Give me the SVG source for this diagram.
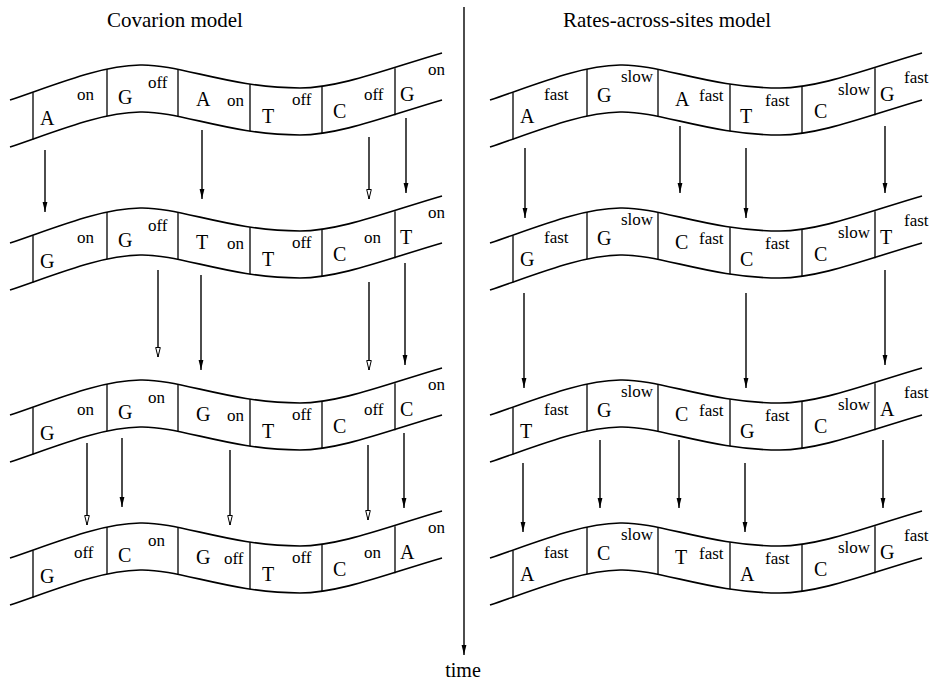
<svg xmlns="http://www.w3.org/2000/svg" xmlns:xlink="http://www.w3.org/1999/xlink" width="937" height="684" viewBox="0 0 937 684">
<style>
.w{fill:none;stroke:#000;stroke-width:1.6}
.d{stroke:#000;stroke-width:1.3}
.L{font-family:"Liberation Serif","Times New Roman",serif;font-size:20px;fill:#000}
.lb{font-family:"Liberation Serif","Times New Roman",serif;font-size:17px;fill:#000}
.t{font-family:"Liberation Serif","Times New Roman",serif;font-size:21px;fill:#000}
.a{stroke:#000;stroke-width:1.4;fill:none}
.f{marker-end:url(#fill)}
.h{marker-end:url(#hollow)}
</style>
<defs>
<marker id="fill" markerUnits="userSpaceOnUse" markerWidth="12" markerHeight="8" refX="10" refY="4" orient="auto" viewBox="0 0 12 8">
<path d="M0,1.6 L10,4 L0,6.4 Z" fill="#000"/>
</marker>
<marker id="hollow" markerUnits="userSpaceOnUse" markerWidth="12" markerHeight="8" refX="10" refY="4" orient="auto" viewBox="0 0 12 8">
<path d="M0.5,1.7 L10,4 L0.5,6.3 Z" fill="#fff" stroke="#000" stroke-width="1"/>
</marker>
<path id="wave" d="M10,100 C60,83 100,66 140,65 C180,64 230,88 300,88 C340,88 390,68 442,53"/>
<g id="band">
<use xlink:href="#wave" class="w"/>
<use xlink:href="#wave" class="w" transform="translate(0,47)"/>
<line class="d" x1="33" y1="92.4" x2="33" y2="139.4"/>
<line class="d" x1="107" y1="69" x2="107" y2="116"/>
<line class="d" x1="178" y1="69.2" x2="178" y2="116.2"/>
<line class="d" x1="250" y1="84.3" x2="250" y2="131.3"/>
<line class="d" x1="322" y1="86.2" x2="322" y2="133.2"/>
<line class="d" x1="395" y1="68.2" x2="395" y2="115.2"/>
</g>
</defs>
<rect width="937" height="684" fill="#fff"/>
<text class="t" x="107" y="27">Covarion model</text>
<text class="t" x="563" y="27">Rates-across-sites model</text>

<g id="cov1" transform="translate(0,0)">
<use xlink:href="#band"/>
<text class="L" x="40" y="125">A</text><text class="lb" x="77" y="100">on</text>
<text class="L" x="118" y="104">G</text><text class="lb" x="148" y="88">off</text>
<text class="L" x="196" y="106">A</text><text class="lb" x="227" y="106">on</text>
<text class="L" x="262" y="123">T</text><text class="lb" x="292" y="105">off</text>
<text class="L" x="333" y="118">C</text><text class="lb" x="364" y="100">off</text>
<text class="L" x="400" y="101">G</text><text class="lb" x="428" y="75">on</text>
</g>
<g id="cov2" transform="translate(0,143)">
<use xlink:href="#band"/>
<text class="L" x="40" y="125">G</text><text class="lb" x="77" y="100">on</text>
<text class="L" x="118" y="104">G</text><text class="lb" x="148" y="88">off</text>
<text class="L" x="196" y="106">T</text><text class="lb" x="227" y="106">on</text>
<text class="L" x="262" y="123">T</text><text class="lb" x="292" y="105">off</text>
<text class="L" x="333" y="118">C</text><text class="lb" x="364" y="100">on</text>
<text class="L" x="400" y="101">T</text><text class="lb" x="428" y="75">on</text>
</g>
<g id="cov3" transform="translate(0,315)">
<use xlink:href="#band"/>
<text class="L" x="40" y="125">G</text><text class="lb" x="77" y="100">on</text>
<text class="L" x="118" y="104">G</text><text class="lb" x="148" y="88">on</text>
<text class="L" x="196" y="106">G</text><text class="lb" x="227" y="106">on</text>
<text class="L" x="262" y="123">T</text><text class="lb" x="292" y="105">off</text>
<text class="L" x="333" y="118">C</text><text class="lb" x="364" y="100">off</text>
<text class="L" x="400" y="101">C</text><text class="lb" x="428" y="75">on</text>
</g>
<g id="cov4" transform="translate(0,458)">
<use xlink:href="#band"/>
<text class="L" x="40" y="125">G</text><text class="lb" x="74" y="100">off</text>
<text class="L" x="118" y="104">C</text><text class="lb" x="148" y="88">on</text>
<text class="L" x="196" y="106">G</text><text class="lb" x="224" y="106">off</text>
<text class="L" x="262" y="123">T</text><text class="lb" x="292" y="105">off</text>
<text class="L" x="333" y="118">C</text><text class="lb" x="364" y="100">on</text>
<text class="L" x="400" y="101">A</text><text class="lb" x="428" y="75">on</text>
</g>

<g id="ras1" transform="translate(480,0)">
<use xlink:href="#band"/>
<text class="L" x="40" y="123">A</text><text class="lb" x="64" y="100">fast</text>
<text class="L" x="117" y="102">G</text><text class="lb" x="141" y="82">slow</text>
<text class="L" x="195" y="106">A</text><text class="lb" x="219" y="101">fast</text>
<text class="L" x="260" y="123">T</text><text class="lb" x="285" y="106">fast</text>
<text class="L" x="334" y="118">C</text><text class="lb" x="358" y="95">slow</text>
<text class="L" x="400" y="101">G</text><text class="lb" x="424" y="83">fast</text>
</g>
<g id="ras2" transform="translate(480,143)">
<use xlink:href="#band"/>
<text class="L" x="40" y="123">G</text><text class="lb" x="64" y="100">fast</text>
<text class="L" x="117" y="102">G</text><text class="lb" x="141" y="82">slow</text>
<text class="L" x="195" y="106">C</text><text class="lb" x="219" y="101">fast</text>
<text class="L" x="260" y="123">C</text><text class="lb" x="285" y="106">fast</text>
<text class="L" x="334" y="118">C</text><text class="lb" x="358" y="95">slow</text>
<text class="L" x="400" y="101">T</text><text class="lb" x="424" y="83">fast</text>
</g>
<g id="ras3" transform="translate(480,315)">
<use xlink:href="#band"/>
<text class="L" x="40" y="123">T</text><text class="lb" x="64" y="100">fast</text>
<text class="L" x="117" y="102">G</text><text class="lb" x="141" y="82">slow</text>
<text class="L" x="195" y="106">C</text><text class="lb" x="219" y="101">fast</text>
<text class="L" x="260" y="123">G</text><text class="lb" x="285" y="106">fast</text>
<text class="L" x="334" y="118">C</text><text class="lb" x="358" y="95">slow</text>
<text class="L" x="400" y="101">A</text><text class="lb" x="424" y="83">fast</text>
</g>
<g id="ras4" transform="translate(480,458)">
<use xlink:href="#band"/>
<text class="L" x="40" y="123">A</text><text class="lb" x="64" y="100">fast</text>
<text class="L" x="117" y="102">C</text><text class="lb" x="141" y="82">slow</text>
<text class="L" x="195" y="106">T</text><text class="lb" x="219" y="101">fast</text>
<text class="L" x="260" y="123">A</text><text class="lb" x="285" y="106">fast</text>
<text class="L" x="334" y="118">C</text><text class="lb" x="358" y="95">slow</text>
<text class="L" x="400" y="101">G</text><text class="lb" x="424" y="83">fast</text>
</g>

<g id="connectors">
<line class="a f" x1="464" y1="7" x2="464" y2="655"/>
<line class="a f" x1="45" y1="150" x2="45" y2="212"/>
<line class="a f" x1="202" y1="130" x2="202" y2="199"/>
<line class="a h" x1="369" y1="137" x2="369" y2="199"/>
<line class="a f" x1="406" y1="118" x2="406" y2="193"/>
<line class="a h" x1="158" y1="270" x2="158" y2="357"/>
<line class="a f" x1="201" y1="275" x2="201" y2="370"/>
<line class="a h" x1="369" y1="282" x2="369" y2="370"/>
<line class="a f" x1="405" y1="263" x2="405" y2="365"/>
<line class="a h" x1="87" y1="443" x2="87" y2="525"/>
<line class="a f" x1="122" y1="438" x2="122" y2="507"/>
<line class="a h" x1="230" y1="450" x2="230" y2="525"/>
<line class="a h" x1="368" y1="445" x2="368" y2="520"/>
<line class="a f" x1="404" y1="433" x2="404" y2="508"/>
<line class="a f" x1="525" y1="148" x2="525" y2="218"/>
<line class="a f" x1="680" y1="126" x2="680" y2="193"/>
<line class="a f" x1="746" y1="148" x2="746" y2="218"/>
<line class="a f" x1="885" y1="126" x2="885" y2="193"/>
<line class="a f" x1="524" y1="293" x2="524" y2="388"/>
<line class="a f" x1="746" y1="293" x2="746" y2="388"/>
<line class="a f" x1="885" y1="270" x2="885" y2="365"/>
<line class="a f" x1="523" y1="463" x2="523" y2="532"/>
<line class="a f" x1="600" y1="440" x2="600" y2="508"/>
<line class="a f" x1="679" y1="440" x2="679" y2="508"/>
<line class="a f" x1="745" y1="463" x2="745" y2="532"/>
<line class="a f" x1="883" y1="440" x2="883" y2="508"/>
</g>
<text class="t" x="463" y="677" text-anchor="middle" style="font-size:20px">time</text>
</svg>
